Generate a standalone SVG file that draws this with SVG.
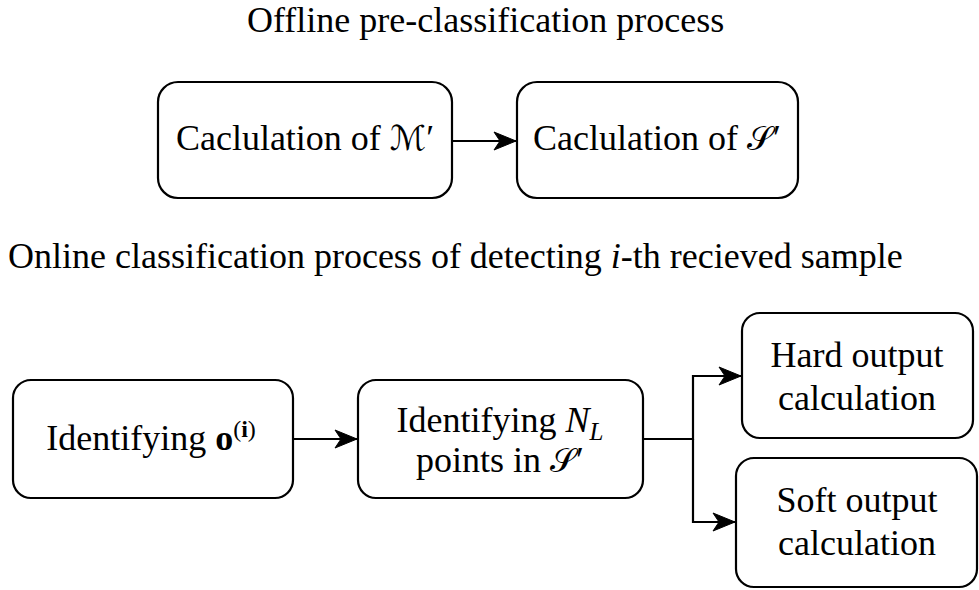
<svg xmlns="http://www.w3.org/2000/svg" width="979" height="590" viewBox="0 0 979 590">
<style>
  .box { fill: #ffffff; stroke: #000000; stroke-width: 2.2; }
  .edge { fill: none; stroke: #000000; stroke-width: 2.2; }
  .t { font-family: "Liberation Serif", "Times New Roman", serif; font-size: 36px; fill: #000000; }
  .c { text-anchor: middle; }
  .it { font-style: italic; }
  .b { font-weight: bold; }
  .cal { font-family: "DejaVu Serif", "DejaVu Sans", serif; font-style: normal; font-size: 33px; }
  .calm { font-family: "DejaVu Sans", "DejaVu Serif", sans-serif; font-style: normal; font-size: 34px; }
</style>
<defs>
  <marker id="arr" markerUnits="userSpaceOnUse" markerWidth="26" markerHeight="22" viewBox="-24 -11 26 22" refX="0" refY="0" orient="auto">
    <path d="M0,0 L-22,-9 L-16,0 L-22,9 Z" fill="#000000" stroke="#000000" stroke-width="1"/>
  </marker>
</defs>
<rect width="979" height="590" fill="#ffffff"/>

<g id="titles">
  <text class="t" x="247" y="32">Offline pre-classification process</text>
  <text class="t" x="8" y="268">Online classification process of detecting <tspan class="it">i</tspan>-th recieved sample</text>
</g>

<g id="calcM">
  <rect class="box" x="158" y="82" width="294" height="116" rx="20"/>
  <text class="t c" x="305" y="150">Caclulation of <tspan class="calm">ℳ</tspan>′</text>
</g>
<g id="calcS">
  <rect class="box" x="517" y="82" width="281" height="116" rx="20"/>
  <text class="t c" x="657" y="150">Caclulation of <tspan class="cal">𝒮</tspan>′</text>
</g>

<g id="identO">
  <rect class="box" x="13" y="380" width="280" height="118" rx="18"/>
  <text class="t c" x="151" y="450">Identifying <tspan class="b">o</tspan><tspan font-size="24" dy="-13">(<tspan class="b">i</tspan>)</tspan></text>
</g>
<g id="identN">
  <rect class="box" x="358" y="380" width="285" height="118" rx="18"/>
  <text class="t c" x="500" y="432">Identifying <tspan class="it">N</tspan><tspan class="it" font-size="25" dy="8">L</tspan></text>
  <text class="t c" x="500" y="472">points in <tspan class="cal">𝒮</tspan>′</text>
</g>
<g id="hard">
  <rect class="box" x="742" y="313" width="231" height="125" rx="18"/>
  <text class="t c" x="857" y="367">Hard output</text>
  <text class="t c" x="857" y="410">calculation</text>
</g>
<g id="soft">
  <rect class="box" x="736" y="458" width="241" height="129" rx="18"/>
  <text class="t c" x="857" y="512">Soft output</text>
  <text class="t c" x="857" y="555">calculation</text>
</g>

<g id="connectors">
  <path class="edge" d="M452,141 L516,141" marker-end="url(#arr)"/>
  <path class="edge" d="M293,439 L357,439" marker-end="url(#arr)"/>
  <path class="edge" d="M643,439 L693,439 L693,376 L741,376" marker-end="url(#arr)"/>
  <path class="edge" d="M693,439 L693,522 L735,522" marker-end="url(#arr)"/>
</g>
</svg>
